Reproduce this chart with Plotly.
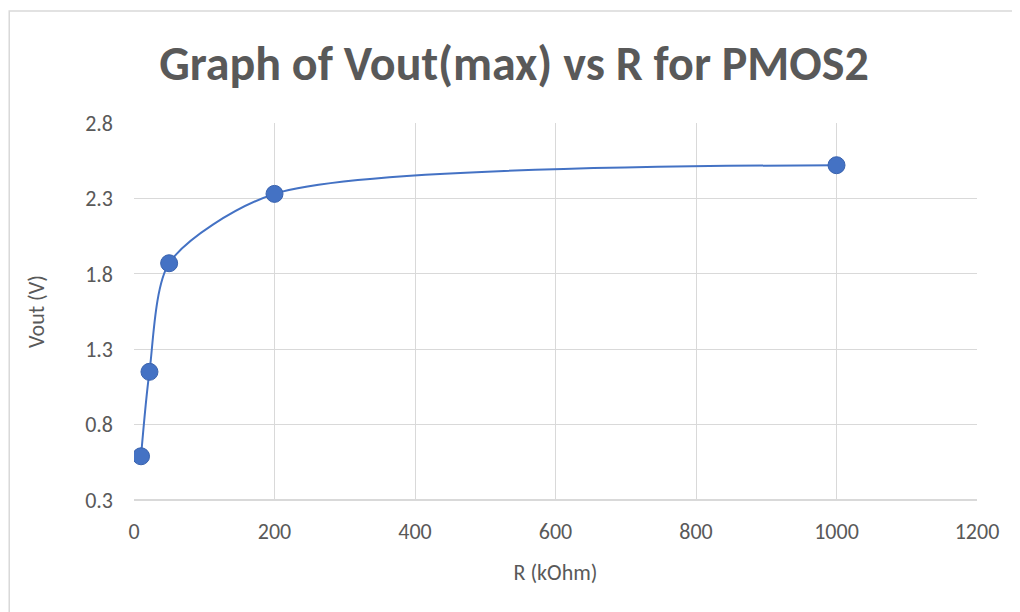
import plotly.graph_objects as go

# data
r_kohm = [10, 22, 50, 200, 1000]
vout_max = [0.59, 1.15, 1.87, 2.33, 2.52]

x_ticks = [0, 200, 400, 600, 800, 1000, 1200]
y_ticks = [0.3, 0.8, 1.3, 1.8, 2.3, 2.8]

FONT = "Carlito, Lato, 'Open Sans', sans-serif"
BLUE = "#4472C4"
GREY = "#595959"
GRID = "#D9D9D9"

fig = go.Figure()

fig.add_trace(
    go.Scatter(
        x=r_kohm,
        y=vout_max,
        mode="lines+markers",
        line=dict(color=BLUE, width=2, shape="spline", smoothing=0.75),
        marker=dict(size=17, color=BLUE, line=dict(color="#3A63AE", width=1)),
        showlegend=False,
    )
)

# page body has an 8px margin, so the figure is 8px smaller than the window
fig.update_layout(
    width=1012,
    height=604,
    paper_bgcolor="white",
    plot_bgcolor="white",
    font=dict(family=FONT, color=GREY),
    title=dict(
        text="<b>Graph of Vout(max) vs R for PMOS2</b>",
        font=dict(size=48, color=GREY, family=FONT),
        x=0.5,
        xanchor="center",
        y=0.908,
        yanchor="middle",
    ),
    margin=dict(l=126, r=43, t=115, b=112),
    xaxis=dict(
        range=[0, 1200],
        tickvals=x_ticks,
        showgrid=True,
        gridcolor=GRID,
        gridwidth=1,
        zeroline=False,
        showline=False,
        ticks="",
        ticklabelstandoff=16,
        tickfont=dict(size=22, color=GREY),
        title=dict(text="R (kOhm)", font=dict(size=22, color=GREY), standoff=20),
    ),
    yaxis=dict(
        range=[0.3, 2.8],
        tickvals=y_ticks,
        ticktext=[f"{v:.1f}" for v in y_ticks],
        showgrid=True,
        gridcolor=GRID,
        gridwidth=1,
        zeroline=False,
        showline=False,
        ticks="",
        ticklabelstandoff=20,
        tickfont=dict(size=22, color=GREY),
        title=dict(text="Vout (V)", font=dict(size=22, color=GREY), standoff=34),
    ),
    shapes=[
        # bottom axis line
        dict(type="line", xref="paper", yref="paper", x0=0, x1=1, y0=0, y1=0,
             line=dict(color=GRID, width=2)),
        # chart frame, top and left edges visible
        dict(type="rect", xref="paper", yref="paper", x0=-0.148, x1=1.2,
             y0=-0.5, y1=1.297, line=dict(color=GRID, width=1.5), layer="below"),
    ],
)

fig.write_html("out.html")
